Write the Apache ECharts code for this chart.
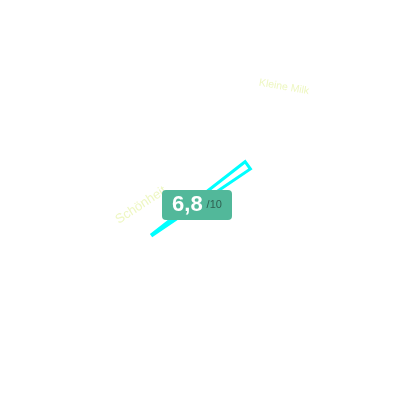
<!DOCTYPE html>
<html><head><meta charset="utf-8">
<script src="https://cdn.jsdelivr.net/npm/echarts@6/dist/echarts.min.js"></script>
<style>html,body{margin:0;padding:0;background:#fff}#c{width:400px;height:400px}</style>
</head><body><div id="c"></div>
<script>
// ---- data ----
const scoreValue = [6.8];
const scoreMax = [10];
const axisNames = ['Schönheit', 'Kleine Milk'];

const chart = echarts.init(document.getElementById('c'), null, { renderer: 'canvas' });

function labelGauge(name, center, radius, angle, size) {
  return {
    type: 'gauge', center: center, radius: radius,
    min: 0, max: 1, splitNumber: 1, startAngle: angle, endAngle: angle - 10,
    axisLine: { show: false, lineStyle: { width: 0 } },
    splitLine: { show: false, length: 0 }, axisTick: { show: false },
    pointer: { show: false }, anchor: { show: false }, progress: { show: false },
    title: { show: false }, detail: { show: false },
    axisLabel: { show: true, distance: 0, rotate: 'tangential', color: '#eef7c2', fontSize: size,
      formatter: function (v) { return v === 0 ? name : ''; } },
    data: [{ value: 0 }]
  };
}

const hidden = {
  axisLine: { show: false }, splitLine: { show: false }, axisTick: { show: false },
  axisLabel: { show: false }, progress: { show: false }, anchor: { show: false },
  title: { show: false }
};

chart.setOption({
  animation: false,
  backgroundColor: '#ffffff',
  series: [
    labelGauge(axisNames[0], [223.2, 331.8], 161, 123, 13),
    labelGauge(axisNames[1], [258, 234.7], 160, 80, 10.5),
    Object.assign({
      type: 'gauge', center: ['50%', '50%'], radius: '75%',
      min: 0, max: scoreMax[0], startAngle: 225, endAngle: -53,
      pointer: {
        show: true, icon: 'path://M0,0L10,0L5.6,100L4.4,100Z', keepAspect: false,
        length: 118, width: 9, offsetCenter: [0, 59],
        itemStyle: { color: '#ffffff', borderColor: '#00ffff', borderWidth: 3 }
      },
      detail: { show: false },
      data: [{ value: scoreValue[0] }]
    }, hidden),
    Object.assign({
      type: 'gauge', center: ['50%', '50%'], radius: '75%',
      min: 0, max: scoreMax[0], startAngle: 225, endAngle: -53,
      pointer: { show: false },
      detail: {
        show: true, offsetCenter: [-3, 5], valueAnimation: false,
        width: 52, height: 24, lineHeight: 24, padding: [3, 9],
        fontSize: 14, fontWeight: 'normal', color: '#ffffff',
        backgroundColor: '#52b89a', borderRadius: 4,
        formatter: function (v) {
          return '{v|' + String(v).replace('.', ',') + '} {u|/' + scoreMax[0] + '}';
        },
        rich: {
          v: { fontSize: 22, fontWeight: 'bold', color: '#ffffff', lineHeight: 24 },
          u: { fontSize: 11, fontWeight: 'normal', color: '#2f5f50', lineHeight: 24 }
        }
      },
      data: [{ value: scoreValue[0] }]
    }, hidden)
  ]
});
</script></body></html>
